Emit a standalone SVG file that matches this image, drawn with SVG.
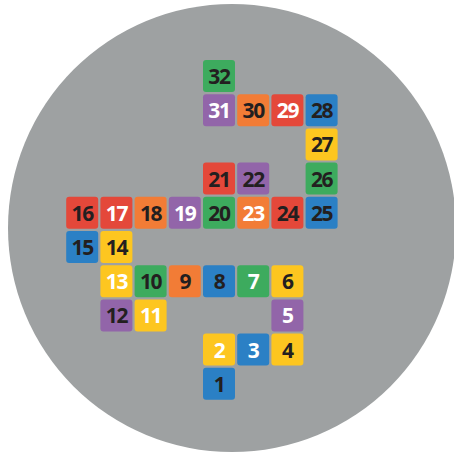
<svg xmlns="http://www.w3.org/2000/svg" width="454" height="453" viewBox="0 0 454 453">
<style>
rect.k{rx:3;ry:3}
.g{fill:#3dab5e}.r{fill:#e4483a}.o{fill:#f27c36}.p{fill:#9265a9}.b{fill:#2b80c5}.y{fill:#fdc620}
text{font-family:"Open Sans","Noto Sans",sans-serif;font-weight:700;font-size:21px;text-anchor:middle;letter-spacing:-1.3px}
.d{fill:#231f20}.w{fill:#ffffff}
</style>
<rect width="454" height="453" fill="#ffffff"/>
<circle cx="232" cy="228" r="224" fill="#9ea1a2"/>
<g id="connectors"/>
<g id="n32"><rect class="k g" x="203" y="60" width="32" height="32"/><text class="d" x="219" y="84">32</text></g>
<g id="n31"><rect class="k p" x="203" y="94.2" width="32" height="32"/><text class="w" x="219" y="118.2">31</text></g>
<g id="n30"><rect class="k o" x="237.2" y="94.2" width="32" height="32"/><text class="d" x="253.2" y="118.2">30</text></g>
<g id="n29"><rect class="k r" x="271.4" y="94.2" width="32" height="32"/><text class="w" x="287.4" y="118.2">29</text></g>
<g id="n28"><rect class="k b" x="305.6" y="94.2" width="32" height="32"/><text class="d" x="321.6" y="118.2">28</text></g>
<g id="n27"><rect class="k y" x="305.6" y="128.4" width="32" height="32"/><text class="d" x="321.6" y="152.4">27</text></g>
<g id="n21"><rect class="k r" x="203" y="162.6" width="32" height="32"/><text class="d" x="219" y="186.6">21</text></g>
<g id="n22"><rect class="k p" x="237.2" y="162.6" width="32" height="32"/><text class="d" x="253.2" y="186.6">22</text></g>
<g id="n26"><rect class="k g" x="305.6" y="162.6" width="32" height="32"/><text class="d" x="321.6" y="186.6">26</text></g>
<g id="n16"><rect class="k r" x="66.2" y="196.8" width="32" height="32"/><text class="d" x="82.2" y="220.8">16</text></g>
<g id="n17"><rect class="k r" x="100.4" y="196.8" width="32" height="32"/><text class="w" x="116.4" y="220.8">17</text></g>
<g id="n18"><rect class="k o" x="134.6" y="196.8" width="32" height="32"/><text class="d" x="150.6" y="220.8">18</text></g>
<g id="n19"><rect class="k p" x="168.8" y="196.8" width="32" height="32"/><text class="w" x="184.8" y="220.8">19</text></g>
<g id="n20"><rect class="k g" x="203" y="196.8" width="32" height="32"/><text class="d" x="219" y="220.8">20</text></g>
<g id="n23"><rect class="k o" x="237.2" y="196.8" width="32" height="32"/><text class="w" x="253.2" y="220.8">23</text></g>
<g id="n24"><rect class="k r" x="271.4" y="196.8" width="32" height="32"/><text class="d" x="287.4" y="220.8">24</text></g>
<g id="n25"><rect class="k b" x="305.6" y="196.8" width="32" height="32"/><text class="d" x="321.6" y="220.8">25</text></g>
<g id="n15"><rect class="k b" x="66.2" y="231" width="32" height="32"/><text class="d" x="82.2" y="255">15</text></g>
<g id="n14"><rect class="k y" x="100.4" y="231" width="32" height="32"/><text class="d" x="116.4" y="255">14</text></g>
<g id="n13"><rect class="k y" x="100.4" y="265.2" width="32" height="32"/><text class="w" x="116.4" y="289.2">13</text></g>
<g id="n10"><rect class="k g" x="134.6" y="265.2" width="32" height="32"/><text class="d" x="150.6" y="289.2">10</text></g>
<g id="n9"><rect class="k o" x="168.8" y="265.2" width="32" height="32"/><text class="d" x="184.8" y="289.2">9</text></g>
<g id="n8"><rect class="k b" x="203" y="265.2" width="32" height="32"/><text class="d" x="219" y="289.2">8</text></g>
<g id="n7"><rect class="k g" x="237.2" y="265.2" width="32" height="32"/><text class="w" x="253.2" y="289.2">7</text></g>
<g id="n6"><rect class="k y" x="271.4" y="265.2" width="32" height="32"/><text class="d" x="287.4" y="289.2">6</text></g>
<g id="n12"><rect class="k p" x="100.4" y="299.4" width="32" height="32"/><text class="d" x="116.4" y="323.4">12</text></g>
<g id="n11"><rect class="k y" x="134.6" y="299.4" width="32" height="32"/><text class="w" x="150.6" y="323.4">11</text></g>
<g id="n5"><rect class="k p" x="271.4" y="299.4" width="32" height="32"/><text class="w" x="287.4" y="323.4">5</text></g>
<g id="n2"><rect class="k y" x="203" y="333.6" width="32" height="32"/><text class="w" x="219" y="357.6">2</text></g>
<g id="n3"><rect class="k b" x="237.2" y="333.6" width="32" height="32"/><text class="w" x="253.2" y="357.6">3</text></g>
<g id="n4"><rect class="k y" x="271.4" y="333.6" width="32" height="32"/><text class="d" x="287.4" y="357.6">4</text></g>
<g id="n1"><rect class="k b" x="203" y="367.8" width="32" height="32"/><text class="d" x="219" y="391.8">1</text></g>
</svg>
